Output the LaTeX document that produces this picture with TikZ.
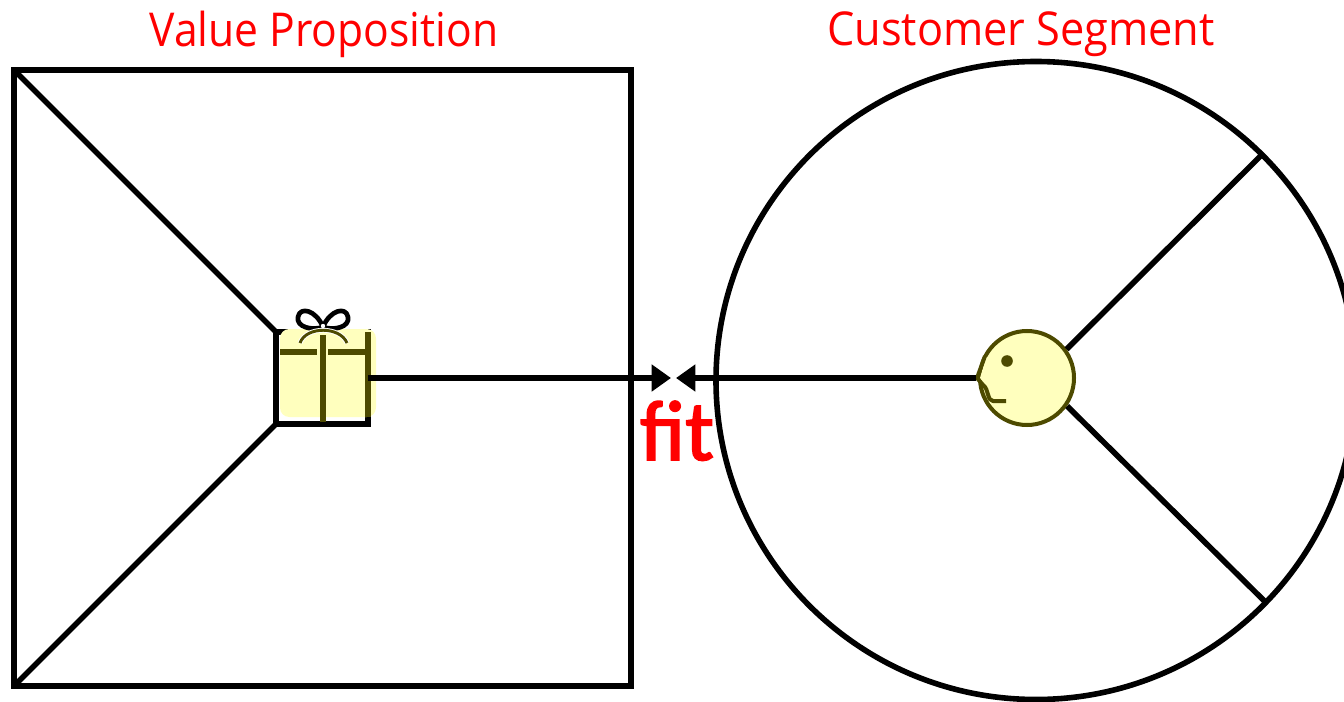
\documentclass[tikz,border=0pt]{standalone}
\usepackage{fontspec}
\setmainfont{Open Sans}
\newfontfamily\fitfont[FakeBold=2]{Carlito}
\usetikzlibrary{arrows.meta,shapes.geometric}
\definecolor{olive}{HTML}{4D4A00}
\definecolor{paleyellow}{HTML}{FFFFBE}
\tikzset{
  px/.style={x=0.75pt,y=-0.75pt},
  thick line/.style={draw=black,line width=4.2pt,outer sep=0pt},
  band/.style={draw=olive,line width=3.8pt},
  title/.style={text=red,font=\fontsize{35pt}{40pt}\selectfont,inner sep=0pt},
  fitlabel/.style={text=red,font=\fitfont\fontsize{64pt}{70pt}\selectfont,inner sep=0pt},
  tip/.style={-{Triangle[length=14.5pt,width=19.5pt]}},
}
\begin{document}
\begin{tikzpicture}[px]
\useasboundingbox (0,0) rectangle (1344,702);
\fill[white] (0,0) rectangle (1344,702);
% frames
\node[thick line,rectangle,minimum width=462.75pt,minimum height=462pt,inner sep=0pt] (square) at (322.5,378) {};
\node[thick line,ellipse,minimum width=480pt,minimum height=478.5pt,inner sep=0pt] (ring) at (1036,380.5) {};
% gift frame
\node[thick line,rectangle,minimum width=69pt,minimum height=69pt,inner sep=0pt] (gift) at (322,378) {};
\draw[thick line,shorten <=2pt] (square.north west) -- (gift.north west);
\draw[thick line,shorten <=2pt] (square.south west) -- (gift.south west);
% gift
\fill[paleyellow,rounded corners=7pt] (280,329) rectangle (376,417);
\draw[band] (368,332) -- (368,417);
\draw[band] (280,352) -- (317,352);
\draw[band] (328,352) -- (366,352);
\draw[band] (323,335) -- (323,422);
\draw[black,line width=3.5pt,line join=round] (323,327) .. controls (312,331) and (296,327) .. (298,317) .. controls (300,306) and (316,310) .. (323,327) .. controls (330,310) and (346,306) .. (348,317) .. controls (350,327) and (334,331) .. (323,327);
\draw[white,line width=3.6pt] (300,343) .. controls (306,326) and (340,326) .. (347,343);
\draw[olive,line width=2.2pt] (300,343) .. controls (306,326) and (340,326) .. (347,343);
\fill[white] (323,326) circle[radius=2.2];
% head
\node[draw=olive,fill=paleyellow,circle,line width=3pt,minimum size=70.5pt,inner sep=0pt] (face) at (1027,378) {};
\coordinate (nose) at (976,378);
\draw[thick line] (face.36) -- (ring.45);
\draw[thick line] (face.-35) -- (ring.-44);
\fill[paleyellow] (986,357) -- (980,378) -- (984,385) -- (996,385) -- (996,357) -- cycle;
\draw[olive,line width=3pt,line join=round] (985,356) -- (977,378) -- (983,385) .. controls (989,389) and (987,401) .. (993,401) -- (1006,401);
\fill[olive] (1007,361) circle[radius=5.8];
% connectors
\coordinate (tipL) at (671,378);
\coordinate (tipR) at (676,378);
\draw[thick line,tip] (gift.east) -- (tipL);
\draw[thick line,tip] (nose) -- (tipR);
% labels
\node[title] (vp) at (324,34) {\scalebox{0.913}[1]{Value Proposition}};
\node[title] (cs) at (1021,34) {\scalebox{0.928}[1]{Customer Segment}};
\node[fitlabel,anchor=base] (fit) at (677,460) {f{}it};
\end{tikzpicture}
\end{document}
